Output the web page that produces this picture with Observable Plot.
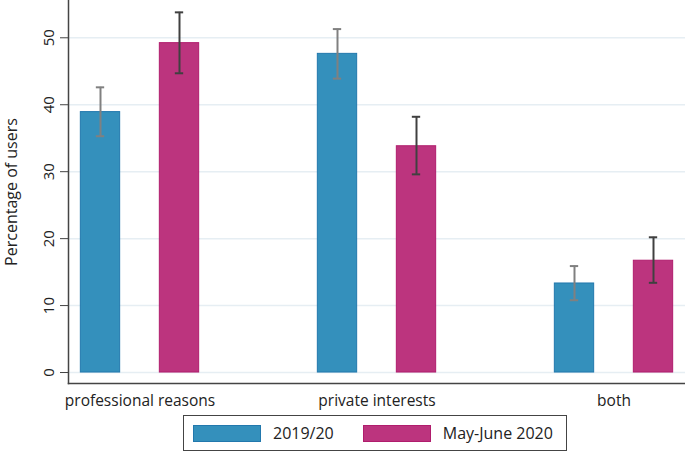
<!DOCTYPE html>
<html>
<head>
<meta charset="utf-8">
<script src="https://cdn.jsdelivr.net/npm/d3@7"></script>
<script src="https://cdn.jsdelivr.net/npm/@observablehq/plot@0.6"></script>
<style>
  html, body { margin: 0; padding: 0; background: #fff; }
  body { width: 685px; height: 452px; position: relative; overflow: hidden; font-family: "Open Sans", sans-serif; }
  #legend { position: absolute; left: 183px; top: 415px; width: 382px; height: 34px; border: 1.5px solid #444;
            display: flex; align-items: center; font-size: 16px; color: #222; box-sizing: content-box; }
  .sw { width: 66px; height: 15px; border: 1px solid; margin-left: 9px; margin-right: 12px; }
  .lab { white-space: nowrap; }
</style>
</head>
<body>
<div id="chart"></div>
<div id="legend"></div>
<script>
const categories = ["professional reasons", "private interests", "both"];
const series = ["2019/20", "May-June 2020"];
const values2019 = [38.9, 47.6, 13.3];
const low2019 = [35.3, 43.9, 10.8];
const high2019 = [42.6, 51.3, 15.9];
const values2020 = [49.2, 33.8, 16.7];
const low2020 = [44.7, 29.6, 13.4];
const high2020 = [53.8, 38.2, 20.2];
const yTicks = [0, 10, 20, 30, 40, 50];

const fills = ["#3490bc", "#bc347e"];
const strokes = ["#2278ad", "#b01d6d"];
const errColors = ["#808080", "#404040"];

const data = [];
categories.forEach((c, i) => {
  data.push({category: c, series: series[0], value: values2019[i], lo: low2019[i], hi: high2019[i]});
  data.push({category: c, series: series[1], value: values2020[i], lo: low2020[i], hi: high2020[i]});
});

const W = 685, H = 410;
const xRange = [20, 733];
const bw = (xRange[1] - xRange[0]) / categories.length;
const barW = 40, offset = 39.5, capW = 9;
const dxs = [-offset, offset];

const marks = [
  Plot.gridY(yTicks, {stroke: "#e6eef3", strokeOpacity: 1, strokeWidth: 1.5})
];
series.forEach((s, k) => {
  const d = data.filter(r => r.series === s);
  marks.push(Plot.barY(d, {x: "category", y: "value", fill: fills[k], stroke: strokes[k], strokeWidth: 1,
    insetLeft: (bw - barW) / 2, insetRight: (bw - barW) / 2, dx: dxs[k]}));
  marks.push(Plot.ruleX(d, {x: "category", y1: "lo", y2: "hi", stroke: errColors[k], strokeWidth: 2, dx: dxs[k]}));
  marks.push(Plot.tickY(d, {x: "category", y: "hi", stroke: errColors[k], strokeWidth: 2, dx: dxs[k],
    insetLeft: (bw - capW) / 2, insetRight: (bw - capW) / 2}));
  marks.push(Plot.tickY(d, {x: "category", y: "lo", stroke: errColors[k], strokeWidth: 2, dx: dxs[k],
    insetLeft: (bw - capW) / 2, insetRight: (bw - capW) / 2}));
});
marks.push(Plot.frame({anchor: "left", stroke: "#444", strokeWidth: 1.5}));
marks.push(Plot.frame({anchor: "bottom", stroke: "#444", strokeWidth: 1.5}));
marks.push(Plot.axisY(yTicks, {tickSize: 8, tickRotate: -90, tickPadding: 7, fontSize: 15, stroke: "#444",
  color: "#222", label: null}));
marks.push(Plot.axisX({tickSize: 0, tickPadding: 11, fontSize: 15.5, label: null, color: "#222"}));
marks.push(Plot.text(["Percentage of users"], {frameAnchor: "left", dx: -57, rotate: -90, textAnchor: "middle",
  fontSize: 16, fill: "#222"}));

const chart = Plot.plot({
  width: W, height: H,
  marginLeft: 68, marginRight: 0, marginTop: 0, marginBottom: 27,
  style: {fontFamily: "'Open Sans', sans-serif", color: "#222", background: "#fff", overflow: "visible"},
  x: {domain: categories, range: xRange, padding: 0},
  y: {domain: [-1.64, 55.57]},
  marks
});
document.getElementById("chart").appendChild(chart);

const leg = document.getElementById("legend");
series.forEach((s, k) => {
  const sw = document.createElement("div");
  sw.className = "sw";
  sw.style.background = fills[k];
  sw.style.borderColor = strokes[k];
  if (k === 1) sw.style.marginLeft = "29px";
  const lab = document.createElement("span");
  lab.className = "lab";
  lab.textContent = s;
  leg.appendChild(sw);
  leg.appendChild(lab);
});
</script>
</body>
</html>
